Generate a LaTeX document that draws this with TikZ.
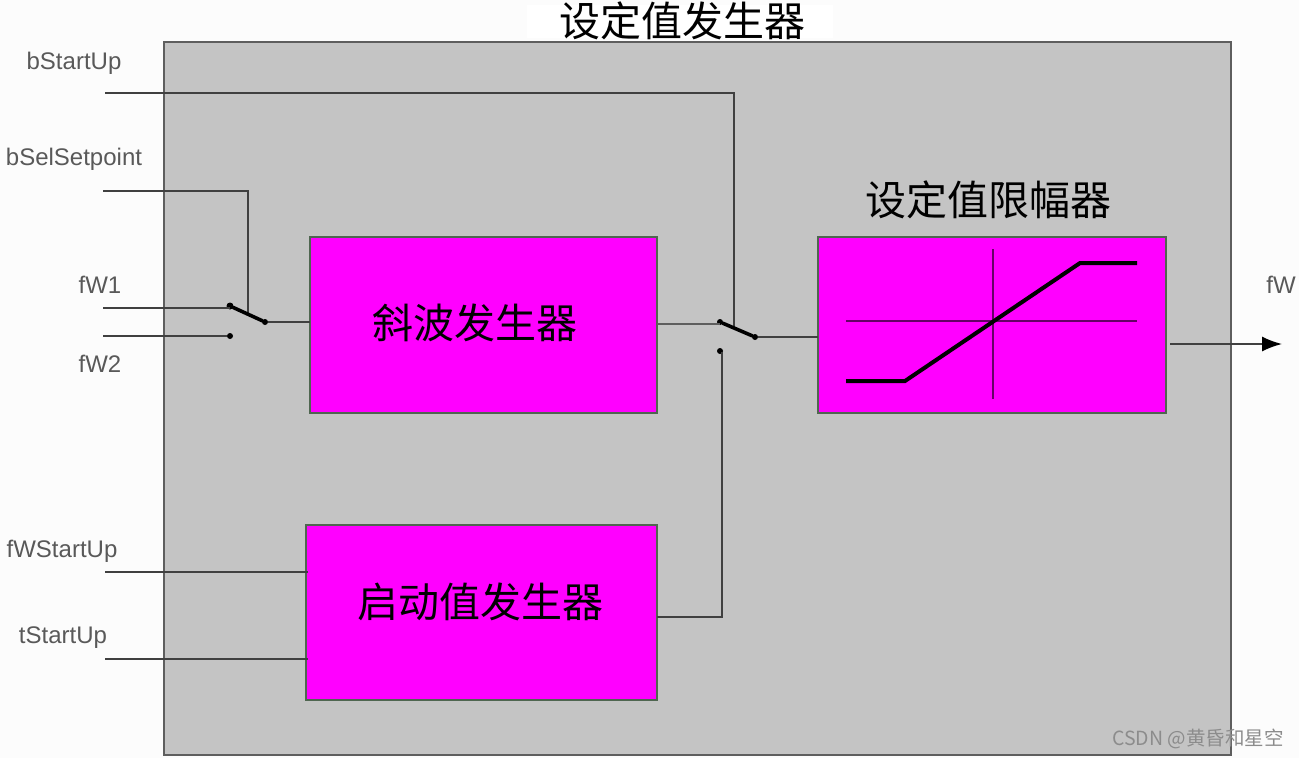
\documentclass[tikz,border=0pt]{standalone}
\usepackage{fontspec}
\setmainfont{Liberation Sans}
\newfontfamily\cjk{Noto Sans CJK SC}
\usetikzlibrary{arrows.meta}
\definecolor{panel}{HTML}{C4C4C4}
\definecolor{mag}{HTML}{FF00FF}
\definecolor{edge}{HTML}{5E5E5E}
\definecolor{blockedge}{HTML}{4F6650}
\definecolor{wire}{HTML}{404040}
\tikzset{
  x=1pt,y=-1pt,
  every node/.style={inner sep=0pt,outer sep=0pt},
  panelbox/.style={fill=panel,draw=edge,line width=2.4pt,anchor=north west},
  blockbox/.style={fill=mag,draw=blockedge,line width=1.6pt,anchor=north west},
  wirepath/.style={draw=wire,line width=1.6pt},
  armpath/.style={draw=black,line width=3.6pt,line cap=round},
  dotnode/.style={circle,fill=black,minimum size=6pt},
  siglabel/.style={font=\fontsize{24}{24}\selectfont,text=black!65},
  cjklabel/.style={font=\cjk\fontsize{41}{41}\selectfont,text=black},
  curvepath/.style={draw=black,line width=4pt,line join=miter},
  axispath/.style={draw=black!60!mag,line width=1.5pt},
}
\begin{document}
\begin{tikzpicture}
\useasboundingbox[fill=white!99!black] (0,0) rectangle (1299,758);
% outer panel
\node[panelbox,minimum width=1067pt,minimum height=713pt] (outer) at (164,42) {};
\node[fill=white,minimum width=306pt,minimum height=33pt] (titlebg) at (680,21) {};
\node[cjklabel] (title) at (682,21) {设定值发生器};
% blocks
\node[blockbox,minimum width=347pt,minimum height=176pt] (ramp) at (310,237) {};
\node[blockbox,minimum width=351pt,minimum height=175pt] (start) at (306,525) {};
\node[blockbox,minimum width=348pt,minimum height=176pt] (limit) at (818,237) {};
\node[cjklabel] (ramptext) at (475,323) {斜波发生器};
\node[cjklabel] (starttext) at (480,602) {启动值发生器};
\node[cjklabel] (limittext) at (988,200) {设定值限幅器};
% labels
\node[siglabel] (lbStart) at (74,63.5) {bStartUp};
\node[siglabel] (lbSel) at (74,159.5) {bSelSetpoint};
\node[siglabel] (lfWa) at (100,285) {fW1};
\node[siglabel] (lfWb) at (100,364) {fW2};
\node[siglabel] (lfW) at (1281,285) {fW};
\node[siglabel] (lfWS) at (62,551.5) {fWStartUp};
\node[siglabel] (ltS) at (63,637.5) {tStartUp};
% free ends
\coordinate (iStart) at (105,93);
\coordinate (iSel) at (103,191);
\coordinate (iWa) at (103,308);
\coordinate (iWb) at (103,336);
\coordinate (iWS) at (105,572);
\coordinate (itS) at (105,659);
\coordinate (oOut) at (1170,344);
\coordinate (oTip) at (1282,344);
% switch contacts
\node[dotnode,minimum size=7pt] (s1a) at (230,306) {};
\node[dotnode,minimum size=6pt] (s1b) at (230,336) {};
\node[dotnode,minimum size=6pt] (s1c) at (265,322) {};
\node[dotnode,minimum size=6pt] (s2a) at (720,322) {};
\node[dotnode,minimum size=6pt] (s2b) at (720,351) {};
\node[dotnode,minimum size=6pt] (s2c) at (755,337) {};
\coordinate (s1tap) at (248,313);
\coordinate (s2tap) at (734,328);
\coordinate (rampR) at (657,324);
\coordinate (rampL) at (310,322);
\coordinate (limL) at (818,337);
\coordinate (startR) at (657,617);
\coordinate (startLa) at (308,572);
\coordinate (startLb) at (308,659);
% wires
\draw[wirepath] (iStart) -- (734,93) -- (s2tap);
\draw[wirepath] (iSel) -- (248,191) -- (s1tap);
\draw[wirepath] (iWa) -- (s1a |- iWa);
\draw[wirepath] (iWb) -- (s1b);
\draw[wirepath] (s1c) -- (rampL);
\draw[wirepath,line width=2.2pt,draw=edge] (rampR) -- (s2a |- rampR);
\draw[wirepath] (s2c) -- (limL);
\draw[wirepath] (startR) -- (722,617) -- (722,352);
\draw[wirepath] (iWS) -- (startLa);
\draw[wirepath] (itS) -- (startLb);
\draw[wirepath,-{Latex[black,length=20pt,width=15pt]}] (oOut) -- (oTip);
% switch arms
\draw[armpath] (s1a) -- (s1c);
\draw[armpath] (s2a) -- (s2c);
% limiter curve
\draw[axispath] (993,249) -- (993,399);
\draw[axispath] (846,321) -- (1137,321);
\draw[curvepath] (846,381) -- (905,381) -- (1080,263) -- (1137,263);
% watermark
\node[font=\cjk\fontsize{19.5}{20}\selectfont,text=black!45] (mark) at (1198,738.5) {CSDN @黄昏和星空};
\end{tikzpicture}
\end{document}
